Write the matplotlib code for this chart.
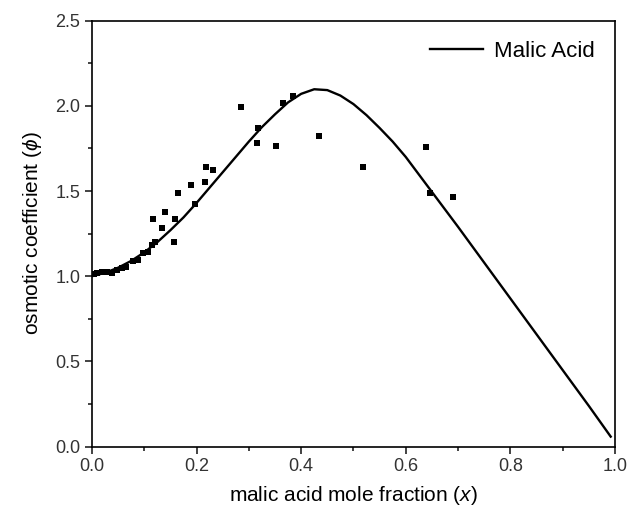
import numpy as np
import matplotlib
matplotlib.use("Agg")
import matplotlib.pyplot as plt

plt.rcParams['font.family'] = ['Liberation Sans', 'DejaVu Sans']
plt.rcParams['mathtext.fontset'] = 'custom'
plt.rcParams['mathtext.rm'] = 'Liberation Sans'
plt.rcParams['mathtext.it'] = 'Liberation Sans:italic'

# model curve
curve_x = [0.0, 0.025, 0.05, 0.075, 0.10, 0.125, 0.15, 0.175, 0.20, 0.225,
           0.25, 0.275, 0.30, 0.325, 0.35, 0.375, 0.40, 0.425, 0.45, 0.475,
           0.50, 0.525, 0.55, 0.575, 0.60, 0.65, 0.70, 0.75, 0.80, 0.85,
           0.90, 0.95, 0.992]
curve_y = [1.00, 1.02, 1.05, 1.09, 1.14, 1.20, 1.27, 1.345, 1.43, 1.52,
           1.61, 1.70, 1.79, 1.875, 1.95, 2.02, 2.07, 2.097, 2.092, 2.06,
           2.01, 1.945, 1.87, 1.79, 1.70, 1.495, 1.29, 1.08, 0.87, 0.66,
           0.45, 0.24, 0.059]

# experimental points
exp_x = [0.004, 0.009, 0.0185, 0.028, 0.0377, 0.047, 0.0565, 0.066, 0.079,
         0.0885, 0.098, 0.1076, 0.114, 0.1205, 0.133, 0.117, 0.1396, 0.156,
         0.158, 0.1639, 0.1964, 0.189, 0.2166, 0.2174, 0.232, 0.285, 0.317,
         0.315, 0.352, 0.366, 0.385, 0.4346, 0.5176, 0.6386, 0.647, 0.691]
exp_y = [1.015, 1.021, 1.027, 1.027, 1.021, 1.037, 1.047, 1.056, 1.090,
         1.096, 1.135, 1.144, 1.184, 1.203, 1.282, 1.336, 1.375, 1.200,
         1.334, 1.487, 1.422, 1.538, 1.555, 1.640, 1.624, 1.995, 1.868,
         1.784, 1.765, 2.019, 2.060, 1.823, 1.641, 1.761, 1.487, 1.464]

fig = plt.figure(figsize=(6.3, 5.14), dpi=100)
ax = fig.add_axes([0.146, 0.131, 0.830, 0.829])

ax.plot(curve_x, curve_y, color='black', lw=1.7, label='Malic Acid')
ax.plot(exp_x, exp_y, 's', color='black', ms=4.3, mew=0, label='_nolegend_')

ax.set_xlim(0, 1.0)
ax.set_ylim(0, 2.5)
ax.set_xticks(np.arange(0, 1.01, 0.2))
ax.set_yticks(np.arange(0, 2.51, 0.5))
ax.set_xticks(np.arange(0.1, 1.0, 0.2), minor=True)
ax.set_yticks(np.arange(0.25, 2.5, 0.5), minor=True)
ax.xaxis.set_major_formatter(matplotlib.ticker.FormatStrFormatter('%.1f'))
ax.yaxis.set_major_formatter(matplotlib.ticker.FormatStrFormatter('%.1f'))
ax.tick_params(which='both', direction='out', top=False, right=False,
               labelsize=13, width=1.2, colors='#222222', labelcolor='#333333')
ax.tick_params(which='major', length=5)
ax.tick_params(which='minor', length=3)
for s in ax.spines.values():
    s.set_linewidth(1.2)

ax.set_xlabel('malic acid mole fraction ($x$)', fontsize=15, labelpad=6)
ax.set_ylabel(r'osmotic coefficient ($\phi$)', fontsize=15, labelpad=8)

ax.legend(loc='upper right', frameon=False, fontsize=16, handlelength=2.4,
          handletextpad=0.5, borderaxespad=0.5)

fig.savefig('out.png', dpi=100)
